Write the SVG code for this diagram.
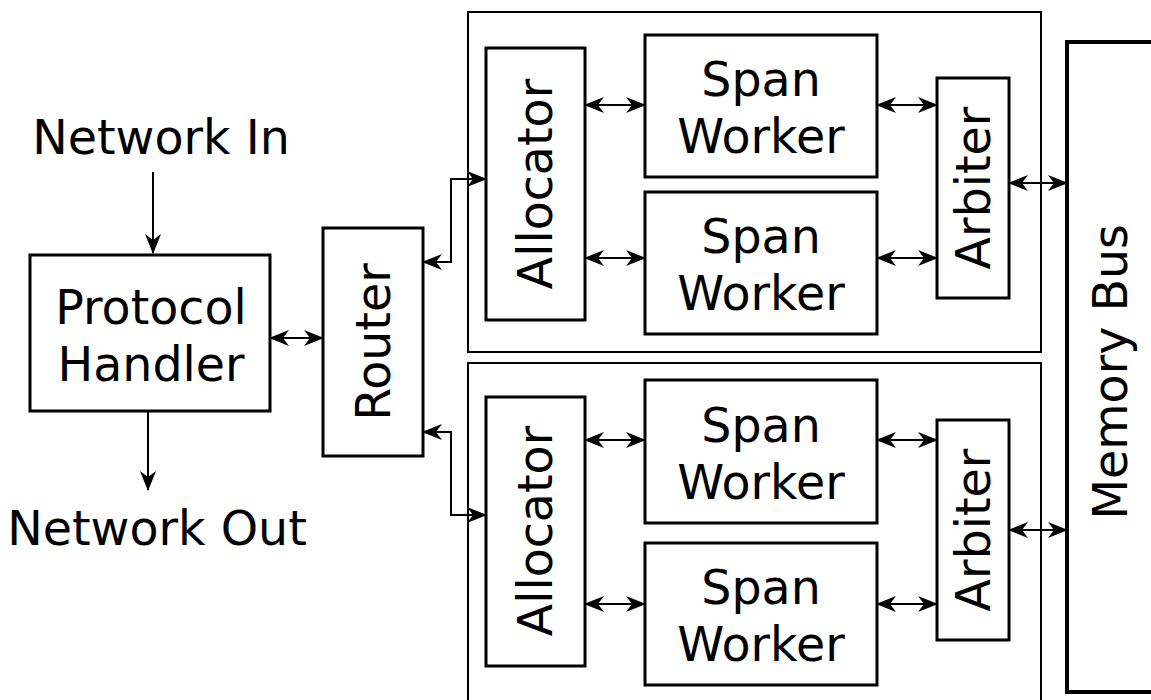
<svg xmlns="http://www.w3.org/2000/svg" width="1151" height="700" viewBox="0 0 1151 700">
  <defs>
    <style>
      .box { fill: #fff; stroke: #000; stroke-width: 3; }
      .frame { fill: none; stroke: #000; stroke-width: 2; }
      .bus { fill: #fff; stroke: #000; stroke-width: 4; }
      .lbl { font-family: "DejaVu Sans", sans-serif; font-size: 47.5px; fill: #000; text-anchor: middle; }
      .wire { fill: none; stroke: #000; stroke-width: 2; }
    </style>
    <marker id="head" viewBox="0 0 20 16" refX="19" refY="8" markerWidth="20" markerHeight="16" markerUnits="userSpaceOnUse" orient="auto-start-reverse">
      <path d="M0,0 L20,8 L0,16 L6,8 Z" fill="#000"/>
    </marker>
  </defs>
  <rect width="1151" height="700" fill="#fff"/>

  <!-- processing clusters -->
  <g id="cluster-top"><rect class="frame" x="468" y="12" width="573" height="340"/></g>
  <g id="cluster-bottom"><rect class="frame" x="468" y="363" width="573" height="360"/></g>

  <!-- external labels -->
  <g id="network-in"><text class="lbl" x="161" y="154">Network In</text></g>
  <g id="network-out"><text class="lbl" x="157" y="545">Network Out</text></g>

  <g id="protocol-handler">
    <rect class="box" x="30" y="255" width="240" height="156"/>
    <text class="lbl" x="151" y="324">Protocol</text>
    <text class="lbl" x="151" y="381">Handler</text>
  </g>

  <g id="router">
    <rect class="box" x="323" y="228" width="100" height="228"/>
    <text class="lbl" transform="rotate(-90 373 342)" x="373" y="359">Router</text>
  </g>

  <g id="allocator-top">
    <rect class="box" x="486" y="48" width="99" height="272"/>
    <text class="lbl" transform="rotate(-90 535 184)" x="535" y="201">Allocator</text>
  </g>
  <g id="span-worker-1">
    <rect class="box" x="645" y="35" width="232" height="142"/>
    <text class="lbl" x="761" y="96">Span</text>
    <text class="lbl" x="761" y="153">Worker</text>
  </g>
  <g id="span-worker-2">
    <rect class="box" x="645" y="192" width="232" height="142"/>
    <text class="lbl" x="761" y="253">Span</text>
    <text class="lbl" x="761" y="310">Worker</text>
  </g>
  <g id="arbiter-top">
    <rect class="box" x="937" y="78" width="72" height="220"/>
    <text class="lbl" transform="rotate(-90 973 188)" x="973" y="205">Arbiter</text>
  </g>

  <g id="allocator-bottom">
    <rect class="box" x="486" y="397" width="99" height="269"/>
    <text class="lbl" transform="rotate(-90 535 531)" x="535" y="548">Allocator</text>
  </g>
  <g id="span-worker-3">
    <rect class="box" x="645" y="380" width="232" height="143"/>
    <text class="lbl" x="761" y="442">Span</text>
    <text class="lbl" x="761" y="499">Worker</text>
  </g>
  <g id="span-worker-4">
    <rect class="box" x="645" y="543" width="232" height="142"/>
    <text class="lbl" x="761" y="604">Span</text>
    <text class="lbl" x="761" y="661">Worker</text>
  </g>
  <g id="arbiter-bottom">
    <rect class="box" x="937" y="420" width="72" height="220"/>
    <text class="lbl" transform="rotate(-90 973 530)" x="973" y="547">Arbiter</text>
  </g>

  <g id="memory-bus">
    <rect class="bus" x="1067" y="42" width="200" height="650"/>
    <text class="lbl" transform="rotate(-90 1110 372)" x="1110" y="389">Memory Bus</text>
  </g>

  <!-- connectors -->
  <g id="connectors">
    <path class="wire" d="M153,172 V253" marker-end="url(#head)"/>
    <path class="wire" d="M148,411 V490" marker-end="url(#head)"/>
    <path class="wire" d="M270,338 H323" marker-start="url(#head)" marker-end="url(#head)"/>
    <path class="wire" d="M423,262 H451 V179 H486" marker-start="url(#head)" marker-end="url(#head)"/>
    <path class="wire" d="M423,432 H451 V515 H486" marker-start="url(#head)" marker-end="url(#head)"/>
    <path class="wire" d="M585,105 H645" marker-start="url(#head)" marker-end="url(#head)"/>
    <path class="wire" d="M585,258 H645" marker-start="url(#head)" marker-end="url(#head)"/>
    <path class="wire" d="M585,440 H645" marker-start="url(#head)" marker-end="url(#head)"/>
    <path class="wire" d="M585,604 H645" marker-start="url(#head)" marker-end="url(#head)"/>
    <path class="wire" d="M877,105 H937" marker-start="url(#head)" marker-end="url(#head)"/>
    <path class="wire" d="M877,258 H937" marker-start="url(#head)" marker-end="url(#head)"/>
    <path class="wire" d="M877,440 H937" marker-start="url(#head)" marker-end="url(#head)"/>
    <path class="wire" d="M877,604 H937" marker-start="url(#head)" marker-end="url(#head)"/>
    <path class="wire" d="M1009,183 H1067" marker-start="url(#head)" marker-end="url(#head)"/>
    <path class="wire" d="M1009,530 H1067" marker-start="url(#head)" marker-end="url(#head)"/>
  </g>
</svg>
